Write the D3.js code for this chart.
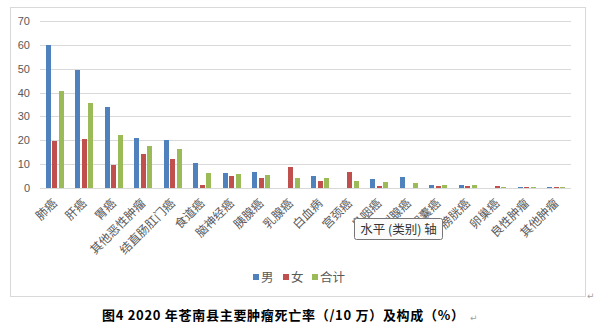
<!DOCTYPE html>
<html><head><meta charset="utf-8">
<script src="https://cdn.jsdelivr.net/npm/d3@7"></script>
<style>
html,body{margin:0;padding:0;background:#fff;}
svg{display:block;}
</style></head>
<body>
<svg id="c" width="601" height="328"></svg>
<script>
const categories = ["肺癌","肝癌","胃癌","其他恶性肿瘤","结直肠肛门癌","食道癌","脑神经癌","胰腺癌","乳腺癌","白血病","宫颈癌","鼻咽癌","前列腺癌","胆囊癌","膀胱癌","卵巢癌","良性肿瘤","其他肿瘤"];
const seriesNames = ["男","女","合计"];
const male   = [60.0,49.6,34.0,20.9,20.0,10.6,6.3,6.7,0,5.1,0,3.9,4.7,1.4,1.4,0,0.5,0.5];
const female = [19.7,20.6,9.7,14.2,12.1,1.3,5.0,4.2,8.9,3.1,6.8,1.0,0,1.0,1.0,1.0,0.5,0.5];
const total  = [40.8,35.8,22.2,17.5,16.3,6.4,5.8,5.5,4.3,4.3,3.1,2.6,2.2,1.4,1.4,0.5,0.5,0.5];
const yTicks = [0,10,20,30,40,50,60,70];
const colors = ["#4f81bd","#c0504d","#9bbb59"];
const caption = "图4 2020 年苍南县主要肿瘤死亡率（/10 万）及构成（%）";
const tooltipText = "水平 (类别) 轴";

const svg = d3.select("#c");
// outer chart frame
svg.append("rect").attr("x",10.5).attr("y",7.5).attr("width",575).attr("height",289)
  .attr("fill","#fff").attr("stroke","#d9d9d9").attr("stroke-width",1);

const x0 = d3.scaleBand().domain(categories).range([40,571]).paddingInner(0.38).paddingOuter(0.19);
const x1 = d3.scaleBand().domain(seriesNames).range([0,x0.bandwidth()]).paddingInner(0.25);
const y = d3.scaleLinear().domain([0,70]).range([188,21]);

// gridlines
const yAxis = d3.axisLeft(y).tickValues(yTicks).tickSize(-531).tickPadding(10).tickFormat(d3.format("d"));
const gy = svg.append("g").attr("transform","translate(40,0)").call(yAxis);
gy.select(".domain").remove();
gy.selectAll(".tick line").attr("stroke","#d9d9d9").attr("stroke-width",1).attr("shape-rendering","crispEdges");
gy.selectAll(".tick text").attr("fill","#595959").attr("font-size","11px")
  .attr("font-family","'Liberation Sans', Arial, sans-serif");

const data = [male,female,total];
const groups = svg.append("g").selectAll("g").data(categories).join("g")
  .attr("transform", d => `translate(${x0(d)},0)`);
groups.selectAll("rect").data((d,i) => seriesNames.map((s,k) => ({s, v:data[k][i], k})))
  .join("rect")
  .attr("x", d => x1(d.s))
  .attr("width", x1.bandwidth())
  .attr("y", d => y(d.v))
  .attr("height", d => y(0) - y(d.v))
  .attr("fill", d => colors[d.k])
  .attr("shape-rendering","crispEdges");

// category labels
svg.append("g").selectAll("text").data(categories).join("text")
  .attr("transform", d => `translate(${x0(d)+x0.bandwidth()/2+3},204) rotate(-45)`)
  .attr("text-anchor","end")
  .attr("font-size","12px")
  .attr("font-family","'Noto Sans CJK SC', sans-serif")
  .attr("fill","#595959")
  .text(d => d);

// legend
const legendItems = seriesNames.map((s,k)=>({s,k}));
const lx = [253, 283, 312];
const lg = svg.append("g");
legendItems.forEach((d,i)=>{
  lg.append("rect").attr("x",lx[i]).attr("y",274).attr("width",6).attr("height",6).attr("fill",colors[d.k]);
  lg.append("text").attr("x",lx[i]+8).attr("y",281.5).attr("font-size","12.5px")
    .attr("font-family","'Noto Sans CJK SC', sans-serif").attr("fill","#595959").text(d.s);
});

// tooltip
const tt = svg.append("g");
tt.append("rect").attr("x",354.5).attr("y",218.5).attr("width",88).attr("height",21).attr("rx",2)
  .attr("fill","#fbfbfb").attr("stroke","#767676");
tt.append("text").attr("x",398.5).attr("y",233.5).attr("text-anchor","middle").attr("font-size","12.5px")
  .attr("font-family","'Noto Sans CJK SC', sans-serif").attr("fill","#333").text(tooltipText);

// paragraph marks
svg.append("text").attr("x",587).attr("y",299).attr("font-size","9px").attr("fill","#a0a0a0")
  .attr("font-family","'DejaVu Sans', sans-serif").text("↵");

// caption
svg.append("text").attr("x",102).attr("y",320).attr("font-size","13px").attr("font-weight","bold")
  .attr("textLength",362).attr("lengthAdjust","spacing")
  .attr("font-family","'Noto Sans CJK SC', sans-serif").attr("fill","#000").text(caption);
svg.append("text").attr("x",470).attr("y",321).attr("font-size","9px").attr("fill","#a0a0a0")
  .attr("font-family","'DejaVu Sans', sans-serif").text("↵");
</script>
</body></html>
